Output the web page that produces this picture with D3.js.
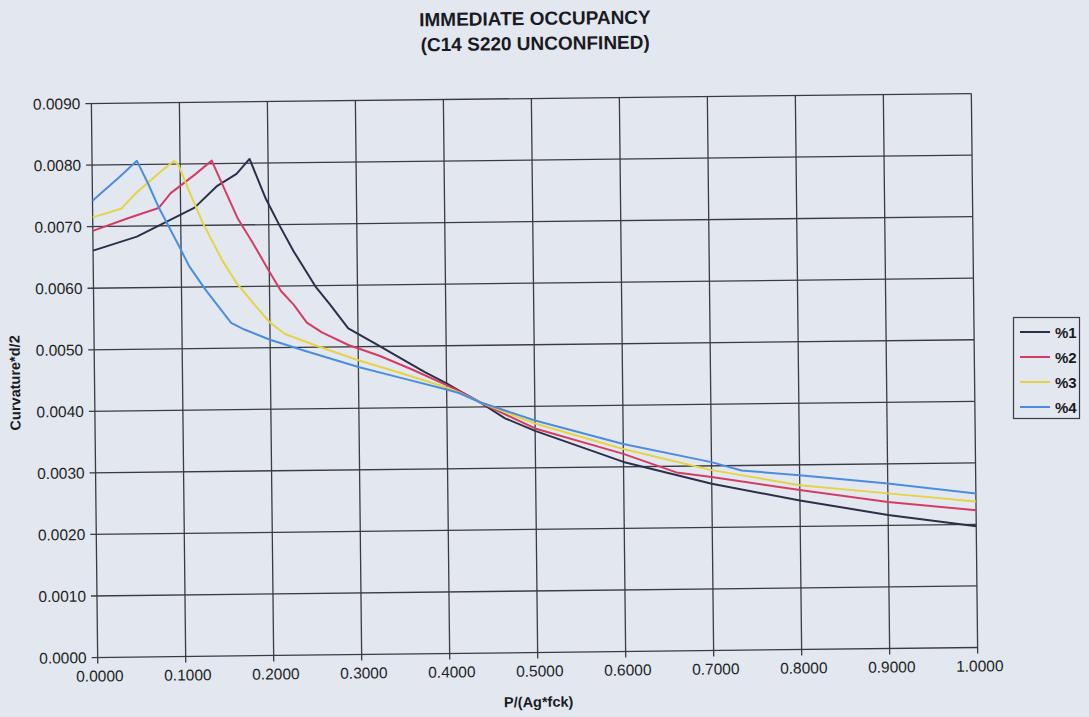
<!DOCTYPE html>
<html>
<head>
<meta charset="utf-8">
<script src="https://cdn.jsdelivr.net/npm/d3@7"></script>
<style>
  html, body { margin: 0; padding: 0; background: #e3e8f0; }
  svg { display: block; font-family: "Liberation Sans", Arial, sans-serif; }
</style>
</head>
<body>
<svg id="chart" width="1089" height="717"></svg>
<script>
// ---- data ----
const seriesNames = ["%1", "%2", "%3", "%4"];
const seriesColors = ["#2c2f4a", "#d63b64", "#e4d445", "#4b8ce0"];

const x1 = [0, 0.05, 0.116, 0.142, 0.164, 0.179, 0.197, 0.212, 0.228, 0.253, 0.268, 0.289, 0.3, 0.324, 0.343, 0.376, 0.4, 0.414, 0.437, 0.466, 0.5, 0.6, 0.7, 0.8, 0.9, 1.0];
const y1 = [0.00661, 0.00683, 0.00729, 0.00764, 0.00783, 0.00807, 0.00742, 0.00699, 0.00656, 0.00597, 0.0057, 0.0053, 0.00521, 0.00501, 0.00485, 0.00457, 0.00439, 0.00427, 0.00408, 0.00381, 0.00360, 0.00308, 0.00271, 0.00242, 0.00217, 0.00197];

const x2 = [0, 0.04, 0.075, 0.089, 0.117, 0.136, 0.15, 0.165, 0.181, 0.2, 0.213, 0.227, 0.242, 0.259, 0.289, 0.324, 0.361, 0.4, 0.414, 0.437, 0.5, 0.6, 0.66, 0.7, 0.8, 0.9, 1.0];
const y2 = [0.00693, 0.00713, 0.00729, 0.00753, 0.00783, 0.00805, 0.00759, 0.0071, 0.00672, 0.00624, 0.00592, 0.0057, 0.0054, 0.00524, 0.00503, 0.00485, 0.00462, 0.00436, 0.00426, 0.00408, 0.00364, 0.00321, 0.0029, 0.00282, 0.00259, 0.00238, 0.00223];

const x3 = [0, 0.033, 0.049, 0.076, 0.093, 0.098, 0.109, 0.125, 0.147, 0.164, 0.183, 0.2, 0.217, 0.255, 0.3, 0.347, 0.4, 0.414, 0.437, 0.5, 0.6, 0.7, 0.8, 0.9, 1.0];
const y3 = [0.00715, 0.00729, 0.00753, 0.00786, 0.00805, 0.00799, 0.00759, 0.00704, 0.00642, 0.00603, 0.0057, 0.00541, 0.00522, 0.00501, 0.00478, 0.00457, 0.00432, 0.00424, 0.00408, 0.00372, 0.00329, 0.00293, 0.00267, 0.00252, 0.00237];

const x4 = [0, 0.03, 0.051, 0.064, 0.0745, 0.098, 0.109, 0.127, 0.156, 0.171, 0.2, 0.24, 0.3, 0.347, 0.4, 0.414, 0.437, 0.5, 0.6, 0.7, 0.734, 0.8, 0.9, 1.0];
const y4 = [0.00742, 0.00779, 0.00806, 0.00767, 0.00732, 0.00666, 0.00634, 0.00596, 0.00541, 0.0053, 0.00513, 0.00494, 0.00467, 0.00449, 0.00429, 0.00423, 0.00408, 0.00377, 0.00337, 0.00306, 0.00292, 0.00283, 0.00268, 0.0025];

const xTicks = [0, 0.1, 0.2, 0.3, 0.4, 0.5, 0.6, 0.7, 0.8, 0.9, 1.0];
const yTicks = [0, 0.001, 0.002, 0.003, 0.004, 0.005, 0.006, 0.007, 0.008, 0.009];
const titleLines = ["IMMEDIATE OCCUPANCY", "(C14 S220 UNCONFINED)"];
const xTitle = "P/(Ag*fck)";
const yTitle = "Curvature*d/2";

// ---- layout ----
const svg = d3.select("#chart");
svg.append("rect").attr("width", 1089).attr("height", 717).attr("fill", "#e3e8f0");

const plot = { left: 94.5, right: 974.5, top: 98.5, bottom: 652.5 };
const cx = (plot.left + plot.right) / 2, cy = (plot.top + plot.bottom) / 2;

const g = svg.append("g").attr("transform", `rotate(-0.65 ${cx} ${cy})`);

const x = d3.scaleLinear().domain([0, 1]).range([plot.left, plot.right]);
const y = d3.scaleLinear().domain([0, 0.009]).range([plot.bottom, plot.top]);

const gridColor = "#3a3b40";

// grid
g.append("g").selectAll("line.v").data(xTicks).join("line")
  .attr("x1", d => x(d)).attr("x2", d => x(d))
  .attr("y1", plot.top).attr("y2", plot.bottom + 6)
  .attr("stroke", gridColor).attr("stroke-width", 1.3);
g.append("g").selectAll("line.h").data(yTicks).join("line")
  .attr("x1", plot.left - 6).attr("x2", plot.right)
  .attr("y1", d => y(d)).attr("y2", d => y(d))
  .attr("stroke", gridColor).attr("stroke-width", 1.3);

// tick labels
g.append("g").selectAll("text").data(xTicks).join("text")
  .attr("x", d => x(d) + 2).attr("y", plot.bottom + 24)
  .attr("text-anchor", "middle").attr("font-size", 15.5).attr("fill", "#1e1f24")
  .text(d => d3.format(".4f")(d));
g.append("g").selectAll("text").data(yTicks).join("text")
  .attr("x", plot.left - 11).attr("y", d => y(d) + 5.5)
  .attr("text-anchor", "end").attr("font-size", 15.5).attr("fill", "#1e1f24")
  .text(d => d3.format(".4f")(d));

// titles
g.append("g").selectAll("text").data(titleLines).join("text")
  .attr("x", 539).attr("y", (d, i) => 25 + i * 25)
  .attr("text-anchor", "middle").attr("font-size", 19).attr("font-weight", "bold").attr("fill", "#1a1a1f")
  .text(d => d);
g.append("text").attr("x", 535).attr("y", 707)
  .attr("text-anchor", "middle").attr("font-size", 14.5).attr("font-weight", "bold").attr("fill", "#1a1a1f")
  .text(xTitle);
g.append("text").attr("transform", `translate(20,377) rotate(-90)`)
  .attr("text-anchor", "middle").attr("font-size", 14.5).attr("font-weight", "bold").attr("fill", "#1a1a1f")
  .text(yTitle);

// series
const allX = [x1, x2, x3, x4], allY = [y1, y2, y3, y4];
const line = d3.line().x(d => x(d[0])).y(d => y(d[1]));
seriesNames.forEach((name, i) => {
  const pts = allX[i].map((v, j) => [v, allY[i][j]]);
  g.append("path").datum(pts)
    .attr("d", line).attr("fill", "none")
    .attr("stroke", seriesColors[i]).attr("stroke-width", 2)
    .attr("stroke-linejoin", "round");
});

// legend (not rotated)
const leg = svg.append("g");
leg.append("rect").attr("x", 1013.5).attr("y", 317.5).attr("width", 66).attr("height", 101)
  .attr("fill", "none").attr("stroke", "#3a3b40").attr("stroke-width", 1.2);
const legY = d3.scalePoint().domain(seriesNames).range([332, 407]);
seriesNames.forEach((name, i) => {
  leg.append("line").attr("x1", 1020).attr("x2", 1050)
    .attr("y1", legY(name)).attr("y2", legY(name))
    .attr("stroke", seriesColors[i]).attr("stroke-width", 2);
  leg.append("text").attr("x", 1055).attr("y", legY(name) + 5.5)
    .attr("font-size", 15).attr("font-weight", "bold").attr("fill", "#1a1a1f")
    .text(name);
});
</script>
</body>
</html>
